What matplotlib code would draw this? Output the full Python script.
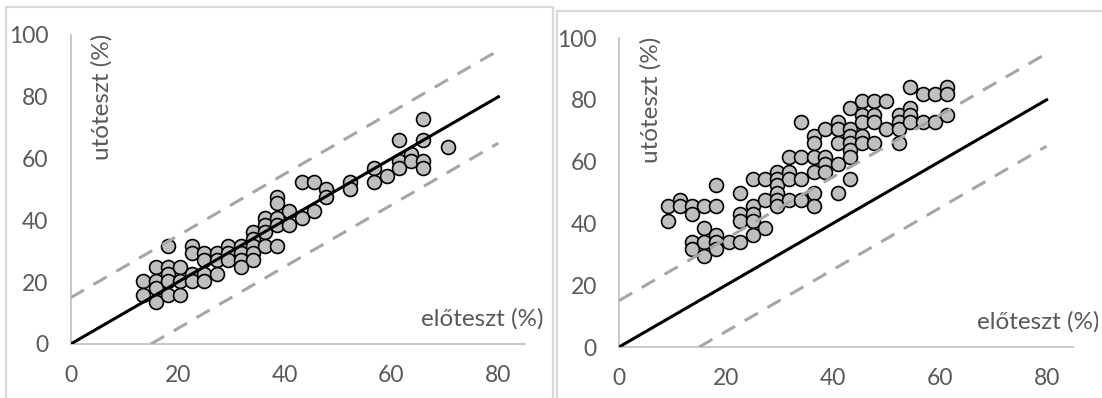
import matplotlib.pyplot as plt
from matplotlib.lines import Line2D
from matplotlib.transforms import Bbox

# Fonte parecida com a do Excel
plt.rcParams['font.family'] = ['Lato', 'DejaVu Sans']

# Pontos do gráfico da esquerda (előteszt, utóteszt)
elo_esq = [13.6, 13.6, 15.9, 15.9, 15.9, 15.9, 18.2, 18.2, 18.2, 18.2, 18.2,
           20.5, 20.5, 20.5, 22.7, 22.7, 22.7, 22.7, 25.0, 25.0, 25.0, 25.0,
           27.3, 27.3, 27.3, 29.5, 29.5, 29.5, 31.8, 31.8, 31.8, 31.8,
           34.1, 34.1, 34.1, 34.1, 34.1, 36.4, 36.4, 36.4, 36.4,
           38.6, 38.6, 38.6, 38.6, 38.6, 40.9, 40.9, 43.2, 43.2, 45.5, 45.5,
           47.7, 47.7, 52.3, 52.3, 56.8, 56.8, 59.1, 61.4, 61.4, 61.4,
           63.6, 63.6, 65.9, 65.9, 65.9, 65.9, 70.5]
uto_esq = [20.5, 15.9, 25.0, 20.5, 18.2, 13.6, 31.8, 25.0, 22.7, 20.5, 15.9,
           25.0, 20.5, 15.9, 31.8, 29.5, 22.7, 20.5, 29.5, 27.3, 22.7, 20.5,
           29.5, 27.3, 22.7, 31.8, 29.5, 27.3, 31.8, 29.5, 27.3, 25.0,
           36.4, 34.1, 31.8, 29.5, 27.3, 40.9, 38.6, 36.4, 31.8,
           47.7, 45.5, 40.9, 38.6, 31.8, 43.2, 38.6, 52.3, 40.9, 52.3, 43.2,
           50.0, 47.7, 52.3, 50.0, 56.8, 52.3, 54.5, 65.9, 59.1, 56.8,
           61.4, 59.1, 72.7, 65.9, 59.1, 56.8, 63.6]

# Pontos do gráfico da direita
elo_dir = [9.1, 9.1, 11.4, 11.4, 13.6, 13.6, 13.6, 13.6, 15.9, 15.9, 15.9, 15.9,
           18.2, 18.2, 18.2, 18.2, 18.2, 20.5, 22.7, 22.7, 22.7, 22.7,
           25.0, 25.0, 25.0, 25.0, 25.0, 27.3, 27.3, 27.3,
           29.5, 29.5, 29.5, 29.5, 29.5, 29.5, 31.8, 31.8, 31.8, 31.8,
           34.1, 34.1, 34.1, 34.1, 36.4, 36.4, 36.4, 36.4, 36.4, 36.4,
           38.6, 38.6, 38.6, 38.6, 40.9, 40.9, 40.9, 40.9, 40.9,
           43.2, 43.2, 43.2, 43.2, 43.2, 43.2, 43.2, 45.5, 45.5, 45.5, 45.5, 45.5,
           47.7, 47.7, 47.7, 47.7, 50.0, 50.0, 52.3, 52.3, 52.3, 52.3,
           54.5, 54.5, 54.5, 54.5, 56.8, 56.8, 59.1, 59.1, 61.4, 61.4, 61.4]
uto_dir = [45.5, 40.9, 47.7, 45.5, 45.5, 43.2, 34.1, 31.8, 45.5, 38.6, 34.1, 29.5,
           52.3, 45.5, 36.4, 34.1, 31.8, 34.1, 50.0, 43.2, 40.9, 34.1,
           54.5, 45.5, 43.2, 40.9, 36.4, 54.5, 47.7, 38.6,
           56.8, 54.5, 52.3, 50.0, 47.7, 45.5, 61.4, 56.8, 54.5, 47.7,
           72.7, 61.4, 54.5, 47.7, 68.2, 65.9, 61.4, 56.8, 50.0, 45.5,
           70.5, 61.4, 59.1, 56.8, 72.7, 70.5, 65.9, 59.1, 50.0,
           77.3, 70.5, 68.2, 65.9, 63.6, 61.4, 54.5, 79.5, 75.0, 72.7, 68.2, 65.9,
           79.5, 75.0, 72.7, 65.9, 79.5, 70.5, 75.0, 72.7, 70.5, 65.9,
           84.1, 77.3, 75.0, 72.7, 81.8, 72.7, 81.8, 72.7, 84.1, 81.8, 75.0]

# Linhas de referência: y = x e y = x +/- 15
linha_x = [0, 80]
linha_y = [0, 80]
sup_x = [0, 80]
sup_y = [15, 95]
inf_x = [15, 80]
inf_y = [0, 65]

ticks_x = [0, 20, 40, 60, 80]
ticks_y = [0, 20, 40, 60, 80, 100]

cinza_txt = "#595959"
cinza_eixo = "#BFBFBF"

fig = plt.figure(figsize=(11.02, 3.98), dpi=100)

# Molduras cinza claras dos dois gráficos
molduras = [([6, 6, 553, 553], [398, 7, 7, 398]),
            ([557, 557, 1102], [398, 11, 11])]
for mx, my in molduras:
    fig.add_artist(Line2D([v / 1102 for v in mx], [1 - v / 398 for v in my],
                          color="#D9D9D9", lw=1.6, transform=fig.transFigure))

posicoes = [[0.0642, 0.1357, 0.4123, 0.7764], [0.5617, 0.1281, 0.4123, 0.7764]]
dados = [(elo_esq, uto_esq), (elo_dir, uto_dir)]
inicio_titulo_x = [65.5, 67.0]  # o da direita fica cortado na borda

for i, (pos, (xs, ys)) in enumerate(zip(posicoes, dados)):
    ax = fig.add_axes(pos)
    ax.scatter(xs, ys, s=100, color="#BFBFBF", edgecolor="black",
               linewidth=1.2, zorder=2)  # Pontos
    ax.plot(linha_x, linha_y, color="black", lw=2.2, zorder=3)
    ax.plot(sup_x, sup_y, color="#A6A6A6", lw=2.2, ls=(0, (5, 3.6)), zorder=3)
    ax.plot(inf_x, inf_y, color="#A6A6A6", lw=2.2, ls=(0, (5, 3.6)), zorder=3)

    ax.set_xlim(0, 85)
    ax.set_ylim(0, 100)
    ax.set_xticks(ticks_x)
    ax.set_yticks(ticks_y)
    ax.tick_params(axis="x", length=0, pad=15, labelsize=16.5, labelcolor=cinza_txt)
    ax.tick_params(axis="y", length=0, pad=16, labelsize=16.5, labelcolor=cinza_txt)
    for lado in ["top", "right"]:
        ax.spines[lado].set_visible(False)
    for lado in ["left", "bottom"]:
        ax.spines[lado].set_color(cinza_eixo)
        ax.spines[lado].set_linewidth(1.2)
    ax.patch.set_alpha(0)

    # Títulos dos eixos dentro da área do gráfico
    ax.text(5.9, 100.5, "utóteszt (%)", rotation=90, ha="center", va="top",
            fontsize=17.5, color=cinza_txt)
    t = ax.text(inicio_titulo_x[i], 8.3, "előteszt (%)", ha="left", va="center",
                fontsize=17.5, color=cinza_txt, clip_on=True)
    t.set_clip_box(Bbox.from_extents(0, 0, 1098, 398))

fig.savefig("out.png", dpi=100)
